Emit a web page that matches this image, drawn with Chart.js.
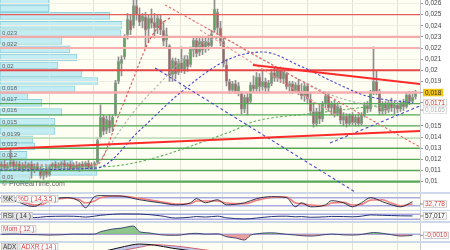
<!DOCTYPE html>
<html>
<head>
<meta charset="utf-8">
<script src="https://cdn.jsdelivr.net/npm/chart.js@4.4.1/dist/chart.umd.min.js"></script>
<style>
  body { margin: 0; width: 450px; height: 250px; overflow: hidden; position: relative; background: #cdd9ea; }
  canvas { position: absolute; left: 0; }
</style>
</head>
<body>
<canvas id="vol" width="450" height="192" style="top:0"></canvas>
<canvas id="main" width="450" height="192" style="top:0"></canvas>
<canvas id="stoch" width="450" height="16" style="top:194px"></canvas>
<canvas id="rsi" width="450" height="10" style="top:211px"></canvas>
<canvas id="mom" width="450" height="18" style="top:223px"></canvas>
<canvas id="adx" width="450" height="7" style="top:243px"></canvas>
<script>
// daily candles, index 0..138
const open = [
  .0113,.0116,.0112,.0115,.0118,.0113,.0116,.0111,.0115,.0112,
  .0116,.0110,.0114,.0111,.0105,.0110,.0106,.0113,.0116,.0112,
  .0115,.0117,.0113,.0116,.0111,.0115,.0112,.0116,.0113,.0117,
  .0112,.0115,.0117,.0140,.0158,.0146,.0155,.0149,.0160,.0190,
  .0206,.0212,.0232,.0245,.0240,.0258,.0250,.0244,.0248,.0237,
  .0247,.0243,.0238,.0246,.0236,.0227,.0222,.0196,.0208,.0198,
  .0207,.0200,.0210,.0205,.0218,.0227,.0216,.0226,.0219,.0225,
  .0222,.0236,.0252,.0238,.0226,.0205,.0190,.0182,.0188,.0181,
  .0180,.0165,.0176,.0172,.0187,.0183,.0194,.0185,.0190,.0184,
  .0188,.0198,.0193,.0200,.0192,.0197,.0185,.0188,.0181,.0187,
  .0180,.0177,.0186,.0174,.0163,.0152,.0163,.0156,.0170,.0177,
  .0166,.0170,.0161,.0166,.0155,.0159,.0152,.0160,.0153,.0158,
  .0152,.0160,.0169,.0165,.0180,.0190,.0181,.0163,.0170,.0164,
  .0171,.0166,.0169,.0165,.0170,.0167,.0178,.0172,.0176
];
const high = [
  .0118,.0119,.0117,.0129,.0120,.0118,.0118,.0117,.0118,.0117,
  .0118,.0116,.0117,.0113,.0112,.0113,.0115,.0117,.0118,.0117,
  .0118,.0119,.0117,.0118,.0117,.0118,.0117,.0118,.0118,.0119,
  .0117,.0118,.0139,.0169,.0160,.0159,.0160,.0160,.0191,.0212,
  .0213,.0232,.0251,.0250,.0263,.0263,.0256,.0251,.0252,.0250,
  .0255,.0251,.0250,.0250,.0244,.0238,.0223,.0211,.0211,.0210,
  .0221,.0213,.0213,.0221,.0230,.0230,.0229,.0230,.0229,.0231,
  .0236,.0263,.0255,.0244,.0230,.0210,.0192,.0190,.0191,.0189,
  .0181,.0178,.0180,.0189,.0195,.0198,.0197,.0201,.0193,.0191,
  .0201,.0203,.0202,.0203,.0201,.0198,.0190,.0190,.0189,.0192,
  .0188,.0189,.0188,.0180,.0171,.0166,.0170,.0172,.0180,.0180,
  .0172,.0173,.0171,.0168,.0162,.0161,.0161,.0162,.0160,.0161,
  .0162,.0171,.0172,.0182,.0221,.0200,.0183,.0172,.0172,.0173,
  .0175,.0172,.0171,.0172,.0174,.0180,.0181,.0181,.0182
];
const low = [
  .0110,.0111,.0110,.0113,.0111,.0110,.0110,.0109,.0110,.0109,
  .0103,.0108,.0110,.0103,.0102,.0104,.0105,.0110,.0111,.0110,
  .0111,.0111,.0110,.0110,.0110,.0111,.0109,.0110,.0111,.0111,
  .0110,.0110,.0116,.0139,.0142,.0143,.0144,.0145,.0159,.0188,
  .0195,.0210,.0228,.0232,.0238,.0245,.0240,.0238,.0221,.0225,
  .0238,.0229,.0233,.0232,.0222,.0220,.0190,.0190,.0192,.0196,
  .0198,.0197,.0199,.0203,.0212,.0212,.0213,.0214,.0216,.0218,
  .0220,.0234,.0232,.0222,.0203,.0186,.0179,.0180,.0179,.0177,
  .0161,.0162,.0160,.0170,.0180,.0181,.0180,.0182,.0181,.0180,
  .0186,.0190,.0190,.0189,.0188,.0183,.0180,.0179,.0180,.0178,
  .0174,.0172,.0171,.0160,.0149,.0150,.0152,.0154,.0166,.0163,
  .0160,.0158,.0159,.0152,.0150,.0149,.0150,.0151,.0150,.0150,
  .0151,.0158,.0162,.0163,.0178,.0178,.0160,.0160,.0161,.0162,
  .0163,.0161,.0162,.0163,.0164,.0166,.0169,.0170,.0174
];
const close = [
  .0116,.0112,.0115,.0118,.0113,.0116,.0111,.0115,.0112,.0116,
  .0110,.0114,.0111,.0105,.0110,.0106,.0113,.0116,.0112,.0115,
  .0117,.0113,.0116,.0111,.0115,.0112,.0116,.0113,.0117,.0112,
  .0115,.0117,.0137,.0158,.0145,.0156,.0148,.0158,.0189,.0208,
  .0210,.0229,.0246,.0236,.0258,.0250,.0243,.0249,.0236,.0247,
  .0242,.0238,.0247,.0236,.0226,.0232,.0195,.0209,.0197,.0207,
  .0201,.0210,.0203,.0219,.0227,.0215,.0226,.0218,.0226,.0222,
  .0233,.0255,.0238,.0226,.0206,.0190,.0182,.0188,.0181,.0186,
  .0165,.0176,.0170,.0187,.0183,.0194,.0185,.0190,.0184,.0189,
  .0198,.0193,.0200,.0192,.0199,.0185,.0188,.0181,.0187,.0180,
  .0177,.0186,.0174,.0163,.0152,.0163,.0156,.0170,.0177,.0166,
  .0170,.0161,.0168,.0155,.0159,.0152,.0160,.0153,.0158,.0152,
  .0160,.0169,.0165,.0180,.0190,.0181,.0163,.0170,.0164,.0171,
  .0166,.0169,.0165,.0170,.0167,.0178,.0172,.0176,.0180
];

// price axis
const yTicks = [0.026, 0.025, 0.024, 0.023, 0.022, 0.021, 0.02, 0.019, 0.015, 0.014, 0.013, 0.012, 0.011, 0.01];
const tagValues = [0.018, 0.0171, 0.0165];
const gridIdx = [16, 30.5, 45, 59.5, 73.5, 87, 102, 117, 132];

// horizontal levels
const resLevels = [0.025, 0.023, 0.022, 0.02, 0.018];
const resLabels = ['', '0,023', '0,022', '0,02', '0,018'];
const supLevels = [0.017, 0.016, 0.015, 0.0139, 0.013, 0.012, 0.011, 0.01];
const supLabels = ['0,017', '0,016', '0,015', '0,0139', '0,013', '0,012', '', '0,01'];

// volume by price
const volPrice = [.02614, .02555, .02488, .02407, .02335, .02263, .02187, .02115, .02043, .01972, .01904, .01828,
  .01761, .01707, .01625, .0154, .01455, .01379, .01316, .0124, .01163, .01087, .01015];
const volSize = [49, 49, 110, 122, 121, 62, 70, 77, 58, 82, 98, 75, 28, 42, 62, 55, 55, 33, 35, 27, 73, 97, 30];

// drawn lines, [index, price]
const trendLow = [[-0.5, .01293], [139.5, .01455]];
const trendHigh = [[83.8, .02048], [139.5, .01877]];
const redArc = [[-0.5, .0115], [31.5, .0115], [39.5, .01626], [43.8, .01913], [48.5, .02227], [52.8, .02407], [56.2, .0247]];
const redFall1 = [[54.5, .02587], [139.5, .01311]];
const redFall2 = [[66.2, .02362], [111.2, .01599]];
const blueArc = [[-0.5, .01105], [31.8, .01123], [46.2, .01464], [59.5, .01796], [75.2, .02093], [87.2, .02164],
  [99.5, .02039], [112.8, .01868], [121.8, .01769], [137.2, .01707]];
const grayArc = [[31.8, .0115], [43.8, .01617], [53.8, .01913], [63.8, .02182], [72.8, .0229], [82.8, .02156],
  [99.5, .01913], [111.8, .0176], [129.5, .01644]];
const blueFall = [[51.2, .02021], [119.5, .0088]];
const blueRise = [[109.5, .01347], [139.5, .0168]];
const greenArc = [[-0.5, .01132], [31.8, .01132], [76.2, .01446], [83.8, .01536], [105.2, .01617], [136.2, .01715]];

// indicators
const indX = [0, 3, 6, 9, 11, 13, 15, 18, 22, 26, 28, 31, 33, 37, 40, 46, 53, 58, 63, 65,
  68, 72, 75, 81, 85, 90, 95, 98, 100, 103, 108, 110, 114, 117, 120, 123, 127, 130, 133, 137];
const stochK = [55, 60, 45, 19, 15, 35, 65, 75, 81, 52, 5, 88, 96, 94, 92, 65, 42, 27, 42, 73,
  42, 65, 27, 42, 73, 88, 81, 12, 42, 12, 27, 58, 42, 12, 42, 81, 50, 27, 12, 50];
const stochD = [52, 57, 52, 35, 25, 25, 45, 65, 78, 65, 40, 55, 80, 92, 93, 75, 50, 33, 35, 55,
  55, 55, 40, 35, 60, 82, 85, 40, 35, 25, 20, 40, 45, 25, 30, 62, 65, 40, 20, 33];
const rsi = [52, 55, 50, 45, 44, 47, 52, 54, 55, 52, 48, 55, 62, 70, 73, 72, 58, 40, 47, 52,
  48, 55, 42, 33, 40, 52, 55, 50, 52, 46, 50, 53, 52, 50, 55, 65, 62, 60, 58, 57];
const momX = [0, 4, 8, 12, 16, 20, 24, 28, 31, 33, 35, 37, 40, 43, 44, 46, 49, 53, 58, 60, 63, 65,
  68, 72, 75, 78, 81, 83, 85, 90, 95, 98, 103, 108, 110, 114, 117, 120, 123, 124, 127, 130, 133, 137];
const mom = [0, .0003, -.0002, -.0004, -.0008, -.0005, .0002, .0001, .0002, .0026, .004, .0053, .0062, .008, .0083,
  .0026, .0015, -.0005, -.001, -.0006, .0008, .001, .0002, .0005, -.0024, -.0037, -.0057, -.001, .0005, .0015,
  0, -.0008, -.0018, -.0003, .0002, -.0006, -.0008, -.0002, .0015, .0018, .001, -.0004, -.0018, -.001];
const adxX = [0, 20, 33, 36, 41, 46, 51, 57, 63, 68, 80, 100, 120, 138];
const adx = [20, 18, 35, 40, 50, 57, 54, 45, 38, 33, 25, 20, 18, 17];
const adxr = [22, 20, 28, 32, 40, 48, 55, 52, 46, 40, 30, 23, 20, 18];
const lastValues = [32.778, 57.017, -0.001];

const xMin = -0.5, xMax = 139.5;
const yMin = 0.00907, yMax = 0.02631;
const cream = '#fefef2';
const font = '"Liberation Sans", Arial, sans-serif';
const comma = (v, d) => (d == null ? String(v) : v.toFixed(d)).replace('.', ',');

function pts(arr) {
  return arr.map(p => ({ x: p[0], y: p[1] }));
}
function lineSet(arr, color, width, dash, smooth) {
  return {
    type: 'line', data: pts(arr), borderColor: color, borderWidth: width, borderDash: dash || [],
    pointRadius: 0, tension: smooth ? 0.4 : 0, cubicInterpolationMode: smooth ? 'monotone' : 'default', order: 0
  };
}
function levelSet(v, color, width) {
  return { type: 'line', data: [{ x: xMin, y: v }, { x: xMax, y: v }], borderColor: color, borderWidth: width, pointRadius: 0, order: 1 };
}

function drawBox(ctx, x, cy, text, bg, fg, border) {
  ctx.font = '6.5px ' + font;
  const w = ctx.measureText(text).width + 4;
  ctx.fillStyle = bg;
  ctx.fillRect(x, cy - 3.75, w, 7.5);
  if (border) {
    ctx.strokeStyle = border;
    ctx.lineWidth = 0.8;
    ctx.strokeRect(x + 0.5, cy - 3.25, w - 1, 6.5);
  }
  ctx.fillStyle = fg;
  ctx.textBaseline = 'middle';
  ctx.fillText(text, x + 2, cy + 0.3);
  return w;
}

// volume profile underneath
new Chart(document.getElementById('vol'), {
  type: 'bar',
  data: {
    datasets: [{
      data: volPrice.map((p, i) => ({ x: volSize[i], y: p })),
      backgroundColor: '#c3ecf3', borderColor: '#8fcfda', borderWidth: 1, borderSkipped: false, barThickness: 7
    }]
  },
  options: {
    indexAxis: 'y', responsive: false, animation: false, events: [],
    layout: { padding: { right: 30 } },
    plugins: { legend: { display: false }, tooltip: { enabled: false } },
    scales: {
      x: { type: 'linear', min: 0, max: 420, display: false },
      y: { type: 'linear', min: yMin, max: yMax, display: false, offset: false }
    }
  },
  plugins: [{
    id: 'bg',
    beforeDraw(chart) {
      const { ctx, chartArea: a } = chart;
      ctx.save();
      ctx.fillStyle = '#fff';
      ctx.fillRect(0, 0, chart.width, chart.height);
      ctx.fillStyle = cream;
      ctx.fillRect(a.left, a.top, a.width, a.height);
      ctx.restore();
    }
  }]
});

const levelSets = [];
resLevels.forEach((v, i) => levelSets.push(levelSet(v, ['#e45e5e', '#f5aaaa', '#f5b0b0', '#e24848', '#f5aeae'][i], [1.3, 2.2, 1.8, 2, 2.4][i])));
supLevels.forEach((v, i) => levelSets.push(levelSet(v, i === 3 ? '#abd8ab' : '#56a856', i === 7 ? 2.2 : 1.3)));

const mainDeco = {
  id: 'mainDeco',
  afterDraw(chart) {
    const { ctx, chartArea: a, scales: { y } } = chart;
    ctx.save();
    // level labels on the left
    ctx.font = '6px ' + font;
    ctx.fillStyle = '#5e5e5e';
    ctx.textBaseline = 'bottom';
    resLevels.concat(supLevels).forEach((v, i) => {
      const t = resLabels.concat(supLabels)[i];
      if (t) ctx.fillText(t, a.left + 2, y.getPixelForValue(v) - 1);
    });
    ctx.font = '7px ' + font;
    ctx.fillStyle = '#6a6a6a';
    ctx.fillText('\u00a9 ProRealTime.com', a.left + 2, a.bottom - 4);
    // price tags on the axis
    const styles = [['#f3c316', '#333', null], ['#fff', '#e02828', '#d0d0d0'], ['#fff', '#b4b4b4', '#d8d8d8']];
    let prev = -99;
    tagValues.forEach((v, i) => {
      const cy = Math.max(y.getPixelForValue(v), prev + 7.5);
      prev = cy;
      ctx.strokeStyle = '#999';
      ctx.lineWidth = 1;
      ctx.beginPath();
      ctx.moveTo(a.right, cy);
      ctx.lineTo(a.right + 3, cy);
      ctx.stroke();
      drawBox(ctx, a.right + 3, cy, comma(v), styles[i][0], styles[i][1], styles[i][2]);
    });
    ctx.restore();
  }
};

new Chart(document.getElementById('main'), {
  type: 'bar',
  data: {
    datasets: [
      lineSet(trendLow, '#ff2a2a', 2),
      lineSet(trendHigh, '#ff2a2a', 2),
      lineSet(redArc, '#e35252', 1.1, [2.5, 2], true),
      lineSet(redFall1, '#ea6a6a', 1.1, [2.5, 2]),
      lineSet(redFall2, '#f09090', 1.1, [2.5, 2]),
      lineSet(blueArc, '#4848d0', 1.1, [2.5, 2], true),
      lineSet(grayArc, '#b0b0b0', 1.1, [2.5, 2], true),
      lineSet(blueFall, '#4848d0', 1.1, [3, 2.5]),
      lineSet(blueRise, '#4848d0', 1.1, [3, 2.5]),
      lineSet(greenArc, '#5cb05c', 1.1, [2.5, 2], true),
      ...levelSets,
      {
        type: 'bar', data: close.map((c, i) => ({ x: i, y: [open[i], c] })),
        backgroundColor: ctx => close[ctx.dataIndex] >= open[ctx.dataIndex] ? '#63a063' : '#a86262',
        borderColor: '#a4a4a4', borderWidth: 0.8, borderSkipped: false,
        barThickness: 2.7, minBarLength: 1, grouped: false, order: 2
      },
      {
        type: 'bar', data: close.map((c, i) => ({ x: i, y: [low[i], high[i]] })),
        backgroundColor: '#8e8e8e', barThickness: 1, grouped: false, order: 3
      }
    ]
  },
  options: {
    responsive: false, animation: false, events: [],
    layout: { padding: 0 },
    plugins: { legend: { display: false }, tooltip: { enabled: false } },
    scales: {
      x: {
        type: 'linear', min: xMin, max: xMax, offset: false,
        grid: { color: '#e2e2d6', drawTicks: false, offset: false }, border: { display: false },
        ticks: { display: false },
        afterBuildTicks: s => { s.ticks = gridIdx.map(v => ({ value: v })); },
        afterFit: s => { s.height = 0; }
      },
      y: {
        type: 'linear', position: 'right', min: yMin, max: yMax,
        grid: { color: '#eeeee4', tickLength: 3, tickColor: '#999' },
        border: { color: '#cccccc' },
        ticks: { font: { family: font, size: 6.5 }, color: '#444', padding: 2, callback: v => comma(v) },
        afterBuildTicks: s => { s.ticks = yTicks.map(v => ({ value: v })); },
        afterFit: s => { s.width = 30; s.paddingTop = 0; s.paddingBottom = 0; }
      }
    }
  },
  plugins: [mainDeco]
});

// indicator panels
function panelDeco(levels, tags, tagTop, last, lastColor, decimals) {
  return {
    id: 'panelDeco',
    beforeDraw(chart) {
      const { ctx, chartArea: a } = chart;
      ctx.save();
      ctx.fillStyle = '#fff';
      ctx.fillRect(0, 0, chart.width, chart.height);
      ctx.fillStyle = cream;
      ctx.fillRect(a.left, a.top, a.width, a.height);
      ctx.restore();
    },
    beforeDatasetsDraw(chart) {
      const { ctx, chartArea: a, scales: { y } } = chart;
      ctx.save();
      ctx.strokeStyle = '#a9a9e8';
      ctx.lineWidth = 1.6;
      levels.forEach(v => {
        const py = y.getPixelForValue(v);
        ctx.beginPath();
        ctx.moveTo(a.left, py);
        ctx.lineTo(a.right, py);
        ctx.stroke();
      });
      ctx.restore();
    },
    afterDraw(chart) {
      const { ctx, chartArea: a, scales: { y } } = chart;
      ctx.save();
      let x = 1;
      tags.forEach(t => {
        x += drawBox(ctx, x, tagTop + 3.75, t[0], t[1], t[2], '#c4c4c4') + 1;
      });
      if (last != null) {
        const cy = y.getPixelForValue(last);
        ctx.strokeStyle = '#888';
        ctx.lineWidth = 1;
        ctx.beginPath();
        ctx.moveTo(a.right, cy);
        ctx.lineTo(a.right + 3, cy);
        ctx.stroke();
        drawBox(ctx, a.right + 3, cy, comma(last, decimals), '#fff', lastColor, '#bdbdbd');
      }
      ctx.restore();
    }
  };
}

function makePanel(id, range, datasets, deco) {
  new Chart(document.getElementById(id), {
    type: 'line',
    data: { datasets },
    options: {
      responsive: false, animation: false, events: [],
      layout: { padding: 0 },
      plugins: { legend: { display: false }, tooltip: { enabled: false } },
      elements: { point: { radius: 0 }, line: { cubicInterpolationMode: 'monotone' } },
      scales: {
        x: {
          type: 'linear', min: xMin, max: xMax,
          grid: { color: '#e2e2d6', drawTicks: false }, border: { display: false }, ticks: { display: false },
          afterBuildTicks: s => { s.ticks = gridIdx.map(v => ({ value: v })); },
          afterFit: s => { s.height = 0; }
        },
        y: {
          type: 'linear', position: 'right', min: range[0], max: range[1],
          grid: { display: false }, border: { color: '#cccccc' }, ticks: { display: false },
          afterFit: s => { s.width = 30; s.paddingTop = 0; s.paddingBottom = 0; }
        }
      }
    },
    plugins: [deco]
  });
}

const series = (xs, vs) => xs.map((x, i) => ({ x, y: vs[i] }));

makePanel('stoch', [-12, 108], [
  { data: series(indX, stochK), borderColor: '#1e1e3a', borderWidth: 0.9 },
  { data: series(indX, stochD), borderColor: '#ee7f7f', borderWidth: 1.6 }
], panelDeco([80, 20], [['%K', '#e6e6e6', '#333'], ['%D ( 14,3,5 )', '#fff', '#e03a3a']], 1, lastValues[0], '#e03a3a', 3));

makePanel('rsi', [16.4, 96.4], [
  { data: series(indX, rsi), borderColor: '#25307a', borderWidth: 1 }
], panelDeco([70, 30], [['RSI ( 14 )', '#e6e6e6', '#333']], 1, lastValues[1], '#222', 3));

makePanel('mom', [-0.0067, 0.0113], [
  {
    data: series(momX, mom), borderColor: '#1f2a62', borderWidth: 0.8,
    fill: { target: { value: 0 }, above: 'rgba(122,188,122,0.85)', below: 'rgba(230,140,140,0.85)' }
  }
], panelDeco([0], [['Mom ( 12 )', '#fff', '#e03a3a']], 2, lastValues[2], '#e03a3a', 4));

makePanel('adx', [40, 60], [
  { data: series(adxX, adx), borderColor: '#111', borderWidth: 1, fill: '+1', backgroundColor: 'rgba(160,160,226,0.6)' },
  { data: series(adxX, adxr), borderColor: '#e04848', borderWidth: 1 }
], panelDeco([], [['ADX', '#e6e6e6', '#333'], ['ADXR ( 14 )', '#fff', '#e03a3a']], 0, null));
</script>
</body>
</html>
